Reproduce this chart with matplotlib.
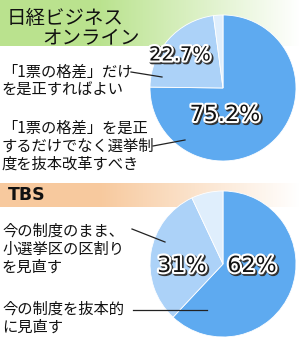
import numpy as np
import matplotlib
matplotlib.use("Agg")
from matplotlib import pyplot as plt
from matplotlib import patheffects as pe

plt.rcParams['font.family'] = ['Noto Sans CJK JP', 'DejaVu Sans']

W, H = 300, 341

# data
nikkei_title = ["日経ビジネス", "オンライン"]
nikkei_values = [75.2, 22.7, 2.1]
nikkei_labels = ["75.2%", "22.7%", ""]
nikkei_answers = ["「1票の格差」だけ\nを是正すればよい",
                  "「1票の格差」を是正\nするだけでなく選挙制\n度を抜本改革すべき"]

tbs_title = "TBS"
tbs_values = [62, 31, 7]
tbs_labels = ["62%", "31%", ""]
tbs_answers = ["今の制度のまま、\n小選挙区の区割り\nを見直す",
               "今の制度を抜本的\nに見直す"]

colors = ["#5eaaf0", "#acd2f8", "#dfeefc"]

fig = plt.figure(figsize=(W / 100, H / 100), dpi=100)
ax = fig.add_axes([0, 0, 1, 1])


def Y(y):
    return H - y


def header(y0, y1, x1, rgb):
    grad = np.linspace(0, 1, 256)
    img = np.ones((1, 256, 3))
    for i in range(3):
        img[0, :, i] = rgb[i] + (1 - rgb[i]) * np.clip(grad * 1.5 - 0.5, 0, 1)
    ax.imshow(img, extent=(0, x1, Y(y1), Y(y0)), aspect='auto', zorder=0)


header(0, 46, 300, (0.73, 0.89, 0.56))
header(183, 207, 300, (0.97, 0.79, 0.62))

ax.text(7, Y(23.5), nikkei_title[0], fontsize=14, va='baseline', ha='left', color='#111')
ax.text(42, Y(43), nikkei_title[1], fontsize=14, va='baseline', ha='left', color='#111')
ax.text(8, Y(195), tbs_title, fontsize=12.5, fontweight='bold', va='center',
        ha='left', color='#111', family=['DejaVu Sans'])

pct_fx = [pe.Stroke(linewidth=3.5, foreground='#333', offset=(1.0, -1.0)),
          pe.Stroke(linewidth=3, foreground='white'), pe.Normal()]


def pie(values, labels, cx, cy, r, label_pos, sizes):
    ax.pie(values, colors=colors, startangle=90, counterclock=False,
           center=(cx, Y(cy)), radius=r,
           wedgeprops=dict(linewidth=0.6, edgecolor='white'))
    for lab, (lx, ly), fs in zip(labels, label_pos, sizes):
        if lab:
            ax.text(lx, Y(ly), lab, fontsize=fs, ha='center', va='center',
                    color='#111', path_effects=pct_fx, zorder=5,
                    family=['DejaVu Sans'])


pie(nikkei_values, nikkei_labels, 223, 88, 73, [(225, 115), (180, 55)], [16, 14])
pie(tbs_values, tbs_labels, 223, 264, 73, [(252, 266), (182, 266)], [16, 16])

body = dict(fontsize=11, ha='left', va='center', linespacing=1.1, color='#111')
ax.text(2, Y(81), nikkei_answers[0], **body)
ax.text(2, Y(146), nikkei_answers[1], **body)
ax.text(2, Y(249), tbs_answers[0], **body)
ax.text(2, Y(318), tbs_answers[1], **body)

lines = [((131, 72), (162, 77)), ((153, 146), (185, 140)),
         ((132, 229), (165, 242)), ((133, 310), (207, 310))]
for (x0, y0), (x1, y1) in lines:
    ax.plot([x0, x1], [Y(y0), Y(y1)], color='#222', lw=0.9, zorder=4)

ax.set_xlim(0, W)
ax.set_ylim(0, H)
ax.set_aspect('auto')
ax.axis('off')
plt.savefig("out.png", dpi=100)
